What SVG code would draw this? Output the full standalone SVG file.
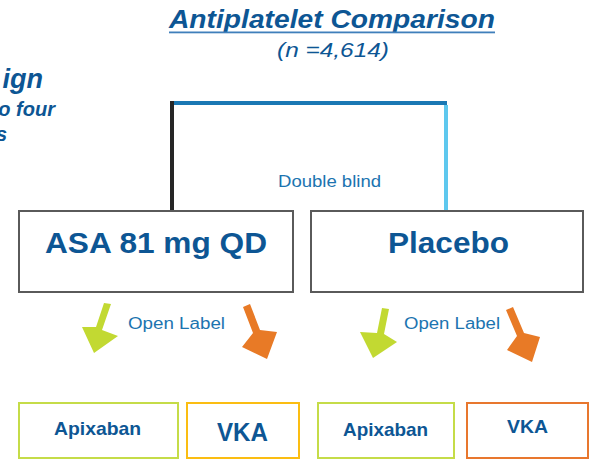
<svg xmlns="http://www.w3.org/2000/svg" width="590" height="469" viewBox="0 0 590 469">
<style>
text{font-family:"Liberation Sans",Arial,sans-serif;fill:#0d5694}
.b{font-weight:bold}
.bi{font-weight:bold;font-style:italic}
.lbl{font-size:16px;fill:#1c74b0}
.box{fill:#fff;stroke:#5a5a5a;stroke-width:2}
.g{fill:#c2d932}
.o{fill:#e87a26}
</style>
<rect width="590" height="469" fill="#fff"/>
<g id="title">
<text x="169" y="28" class="bi" font-size="25" textLength="326" lengthAdjust="spacingAndGlyphs">Antiplatelet Comparison</text>
<rect x="169" y="31.5" width="326" height="1.8" fill="#3f7fbb"/>
<text x="277" y="57" font-size="20" font-style="italic" textLength="112" lengthAdjust="spacingAndGlyphs">(n =4,614)</text>
</g>
<g id="side-text">
<text x="43" y="88" class="bi" font-size="27" text-anchor="end">ign</text>
<text x="55" y="116" class="bi" font-size="20" text-anchor="end">o four</text>
<text x="7" y="141" class="bi" font-size="20" text-anchor="end">s</text>
</g>
<g id="connectors">
<line x1="170" y1="103" x2="447" y2="103" stroke="#1a78b4" stroke-width="4"/>
<line x1="172" y1="101" x2="172" y2="211" stroke="#262626" stroke-width="4"/>
<line x1="446" y1="105" x2="446" y2="211" stroke="#5ec8ee" stroke-width="4"/>
<polygon class="g" points="104,303 111,304 102,330 118,336 94,353 82,327 96,327"/>
<polygon class="o" points="243,307 250,304 260,330 277,332 267,359 242,347 253,333"/>
<polygon class="g" points="382,308 389,309 384,334 397,342 373,358 360,332 377,333"/>
<polygon class="o" points="506,310 513,307 524,333 540,337 532,362 507,350 517,336"/>
</g>
<text x="278" y="187" class="lbl" textLength="103" lengthAdjust="spacingAndGlyphs">Double blind</text>
<text x="128" y="329" class="lbl" textLength="97" lengthAdjust="spacingAndGlyphs">Open Label</text>
<text x="404" y="329" class="lbl" textLength="96" lengthAdjust="spacingAndGlyphs">Open Label</text>
<g id="asa">
<rect x="19" y="211" width="274" height="81" class="box"/>
<text x="45" y="253" class="b" font-size="29" textLength="222" lengthAdjust="spacingAndGlyphs">ASA 81 mg QD</text>
</g>
<g id="placebo">
<rect x="311" y="211" width="272" height="81" class="box"/>
<text x="388" y="253" class="b" font-size="29" textLength="121" lengthAdjust="spacingAndGlyphs">Placebo</text>
</g>
<g id="apixaban1">
<rect x="19" y="403" width="159" height="55" fill="#fff" stroke="#c5dc48" stroke-width="2"/>
<text x="54" y="435" class="b" font-size="19" textLength="87" lengthAdjust="spacingAndGlyphs">Apixaban</text>
</g>
<g id="vka1">
<rect x="187" y="403" width="112" height="55" fill="#fff" stroke="#fbbd12" stroke-width="2"/>
<text x="217" y="441" class="b" font-size="25" textLength="51" lengthAdjust="spacingAndGlyphs">VKA</text>
</g>
<g id="apixaban2">
<rect x="318" y="403" width="136" height="55" fill="#fff" stroke="#c5dc48" stroke-width="2"/>
<text x="343" y="436" class="b" font-size="19" textLength="85" lengthAdjust="spacingAndGlyphs">Apixaban</text>
</g>
<g id="vka2">
<rect x="467" y="403" width="121" height="55" fill="#fff" stroke="#e8772e" stroke-width="2"/>
<text x="507" y="433" class="b" font-size="18.5" textLength="41" lengthAdjust="spacingAndGlyphs">VKA</text>
</g>
</svg>
